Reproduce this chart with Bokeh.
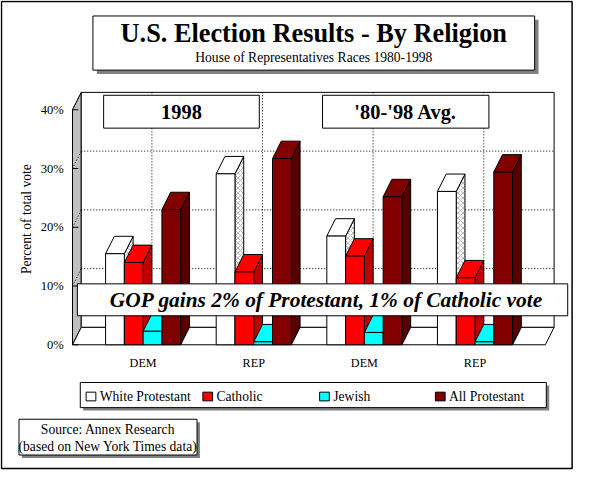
import math
from bokeh.plotting import figure
from bokeh.models import Range1d
from bokeh.core.properties import value
from bokeh.embed import file_html
from bokeh.resources import INLINE

# ---------------- data ----------------
categories = ["DEM", "REP", "DEM", "REP"]
panel_titles = ["1998", "'80-'98 Avg."]
series_names = ["White Protestant", "Catholic", "Jewish", "All Protestant"]
white_protestant = [15.5, 29.1, 18.5, 26.1]
catholic = [14.0, 12.4, 15.1, 11.4]
jewish = [2.3, 0.5, 2.1, 0.5]
all_protestant = [23.0, 31.7, 25.2, 29.4]
y_ticks = [0, 10, 20, 30, 40]
y_tick_labels = ["0%", "10%", "20%", "30%", "40%"]
title_text = "U.S. Election Results - By Religion"
subtitle_text = "House of Representatives Races 1980-1998"
y_title = "Percent of total vote"
banner_text = "GOP gains 2% of Protestant, 1% of Catholic vote"
source_lines = ["Source: Annex Research", "(based on New York Times data)"]

series_values = [white_protestant, catholic, jewish, all_protestant]
front_colors = ["#ffffff", "#ff0000", "#00ffff", "#800000"]
side_colors = ["#ffffff", "#c00000", "#00b8b8", "#560000"]

# ---------------- layout (reference pixel space) ----------------
REF_W, REF_H = 591, 486
W, H = 575, 470
FS = W / REF_W
C0, STEP = 146.6, 113.7      # category centre / spacing (px)
Y0, PXPCT = 356.0, 6.075     # 0% baseline and px per percent


def X(px):
    return (px - C0) / STEP


def Y(py):
    return (Y0 - py) / PXPCT


def fs(px):
    return "%.1fpx" % (px * FS)


SERIF = value("Liberation Serif")

p = figure(width=W, height=H, output_backend="svg", toolbar_location=None,
           x_range=Range1d(X(0), X(REF_W)), y_range=Range1d(Y(REF_H), Y(0)),
           x_axis_location=None, y_axis_location=None, min_border=0)
p.grid.visible = False
p.outline_line_color = None
p.background_fill_color = "white"
p.border_fill_color = "white"

BW = 19.3 / STEP
DX = 9.0 / STEP
DY = 18.0 / PXPCT
XL, XR = X(74), X(560)
YTOP = y_ticks[-1]

# outer border
p.quad(left=[X(1)], right=[X(587.5)], top=[Y(1)], bottom=[Y(484)],
       fill_color=None, line_color="black", line_width=1.5)

# title box with shadow
p.quad(left=[X(99)], right=[X(553)], top=[Y(20)], bottom=[Y(76)],
       fill_color="#808080", line_color=None)
p.quad(left=[X(95)], right=[X(549)], top=[Y(16)], bottom=[Y(72)],
       fill_color="white", line_color="black", line_width=1)
p.text(x=[X(322)], y=[Y(34)], text=[title_text], text_font=SERIF,
       text_font_size=fs(27), text_font_style="bold", text_align="center",
       text_baseline="middle", text_color="black")
p.text(x=[X(322)], y=[Y(59)], text=[subtitle_text], text_font=SERIF,
       text_font_size=fs(14), text_align="center", text_baseline="middle",
       text_color="black")

# walls and floor
p.patch(x=[XL, XL, XL + DX, XL + DX], y=[0, YTOP, YTOP + DY, DY],
        fill_color="#c0c0c0", line_color="black", line_width=1)
p.quad(left=[XL + DX], right=[XR + DX], bottom=[DY], top=[YTOP + DY],
       fill_color="white", line_color="black", line_width=1)
p.patch(x=[XL, XL + DX, XR + DX, XR], y=[0, DY, DY, 0],
        fill_color="white", line_color="black", line_width=1)

# gridlines
for t in y_ticks[1:-1]:
    p.line(x=[XL + DX, XR + DX], y=[t + DY, t + DY], line_color="black",
           line_dash="1 2", line_width=1)
for t in y_ticks[1:]:
    p.line(x=[XL, XL + DX], y=[t, t + DY], line_color="black",
           line_dash="1 2", line_width=1)
for c in range(len(categories)):
    p.line(x=[c + DX, c + DX], y=[DY, YTOP + DY], line_color="black",
           line_dash="1 2", line_width=1)

# ticks and tick labels
p.segment(x0=[XL] * len(y_ticks), x1=[XL + 6 / STEP] * len(y_ticks),
          y0=y_ticks, y1=y_ticks, line_color="black", line_width=1)
p.text(x=[X(65)] * len(y_ticks), y=y_ticks, text=y_tick_labels, text_font=SERIF,
       text_font_size=fs(13), text_align="right", text_baseline="middle",
       text_color="black")

# 3D bars, series by series (left to right in each group)
for i, vals in enumerate(series_values):
    lefts = [c + (i - 2) * BW for c in range(len(categories))]
    rights = [l + BW for l in lefts]
    side_xs = [[r, r, r + DX, r + DX] for r in rights]
    side_ys = [[0, v, v + DY, DY] for v in vals]
    top_xs = [[l, l + DX, r + DX, r] for l, r in zip(lefts, rights)]
    top_ys = [[v, v + DY, v + DY, v] for v in vals]
    if i == 0:
        p.patches(xs=side_xs, ys=side_ys, fill_color="white", line_color="black",
                  line_width=1, hatch_pattern="x", hatch_color="#a8a8a8",
                  hatch_scale=5, hatch_weight=0.8)
    else:
        p.patches(xs=side_xs, ys=side_ys, fill_color=side_colors[i],
                  line_color="black", line_width=1)
    p.patches(xs=top_xs, ys=top_ys, fill_color=front_colors[i],
              line_color="black", line_width=1)
    p.quad(left=lefts, right=rights, bottom=[0] * len(vals), top=vals,
           fill_color=front_colors[i], line_color="black", line_width=1)

# category labels
p.text(x=list(range(len(categories))), y=[Y(375)] * len(categories),
       text=categories, text_font=SERIF, text_font_size=fs(12.5),
       text_align="center", text_baseline="middle", text_color="black")

# panel title boxes
p.quad(left=[X(106), X(331)], right=[X(266), X(502)], top=[Y(98), Y(98)],
       bottom=[Y(132), Y(132)], fill_color="white", line_color="black",
       line_width=1)
p.text(x=[X(186), X(416.5)], y=[Y(115), Y(115)], text=panel_titles,
       text_font=SERIF, text_font_size=fs(21), text_font_style="bold",
       text_align="center", text_baseline="middle", text_color="black")

# GOP banner
p.quad(left=[X(79)], right=[X(583)], top=[Y(293)], bottom=[Y(326)],
       fill_color="white", line_color="black", line_width=1)
p.text(x=[X(335)], y=[Y(310)], text=[banner_text], text_font=SERIF,
       text_font_size=fs(22), text_font_style="bold italic",
       text_align="center", text_baseline="middle", text_color="black")

# y-axis title
p.text(x=[X(27)], y=[Y(226)], text=[y_title], text_font=SERIF,
       text_font_size=fs(14), text_align="center", text_baseline="middle",
       angle=math.pi / 2, text_color="black")

# legend box
p.quad(left=[X(85)], right=[X(564)], top=[Y(398)], bottom=[Y(424)],
       fill_color="#808080", line_color=None)
p.quad(left=[X(82)], right=[X(561)], top=[Y(395)], bottom=[Y(421)],
       fill_color="white", line_color="black", line_width=1)
sq_left = [88, 208, 328, 447]
p.quad(left=[X(v) for v in sq_left], right=[X(v + 10) for v in sq_left],
       top=[Y(405)] * 4, bottom=[Y(414)] * 4, fill_color=front_colors,
       line_color="black", line_width=1)
p.text(x=[X(v + 14) for v in sq_left], y=[Y(409.5)] * 4, text=series_names,
       text_font=SERIF, text_font_size=fs(14), text_align="left",
       text_baseline="middle", text_color="black")

# source box
p.quad(left=[X(22)], right=[X(205)], top=[Y(436)], bottom=[Y(473)],
       fill_color="#808080", line_color=None)
p.quad(left=[X(19)], right=[X(202)], top=[Y(433)], bottom=[Y(470)],
       fill_color="white", line_color="black", line_width=1)
p.text(x=[X(110.5)] * 2, y=[Y(443.5), Y(461.5)], text=source_lines,
       text_font=SERIF, text_font_size=fs(14), text_align="center",
       text_baseline="middle", text_color="black")

open("out.html", "w").write(file_html(p, INLINE))
